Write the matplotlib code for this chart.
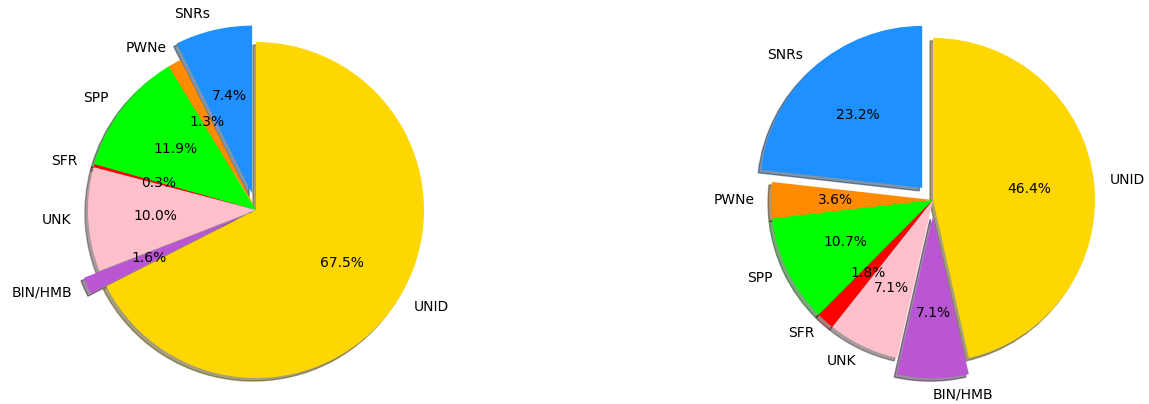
import matplotlib.pyplot as plt

# ==== Dados ====
labels = ["SNRs", "PWNe", "SPP", "SFR", "UNK", "BIN/HMB", "UNID"]
colors = ["dodgerblue", "darkorange", "lime", "red", "pink", "mediumorchid", "gold"]

left_sizes = [7.4, 1.3, 11.9, 0.3, 10.0, 1.6, 67.5]
left_explode = [0.1, 0, 0, 0, 0, 0.1, 0]

right_sizes = [23.2, 3.6, 10.7, 1.8, 7.1, 7.1, 46.4]
right_explode = [0.1, 0, 0, 0, 0, 0.1, 0]

W, H = 1149, 404
fig = plt.figure(figsize=(W / 100, H / 100), dpi=100)


def add_pie(cx, cy, r, sizes, explode, half=190):
    # cx, cy em pixels (y a partir do topo), r = raio em pixels
    ax = fig.add_axes([(cx - half) / W, (H - cy - half) / H, 2 * half / W, 2 * half / H])
    ax.pie(sizes, labels=labels, colors=colors, explode=explode,
           autopct="%1.1f%%", startangle=90,
           shadow={"ox": -0.013, "oy": -0.013, "shade": 0.7},
           textprops={"fontsize": 10})
    lim = half / r
    ax.set_xlim(-lim, lim)
    ax.set_ylim(-lim, lim)
    ax.set_aspect("equal")
    ax.axis("off")
    return ax


add_pie(256, 210, 168, left_sizes, left_explode)
add_pie(933, 200, 162, right_sizes, right_explode)

fig.savefig("out.png", dpi=100)
